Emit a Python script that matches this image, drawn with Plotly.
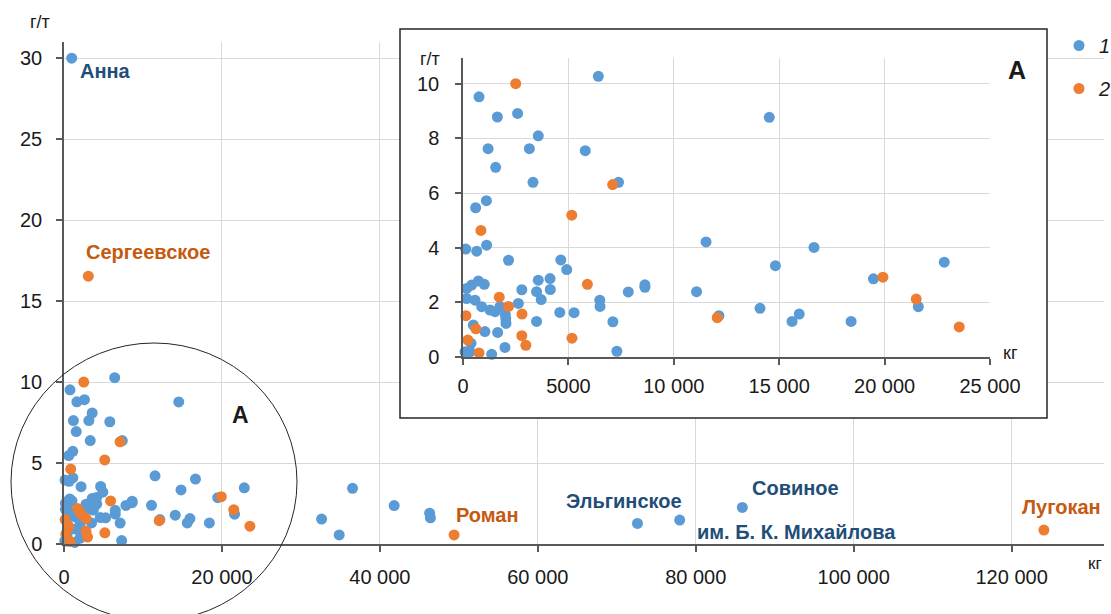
import numpy as np
import plotly.graph_objects as go

# ---------------- data ----------------
# series 1 (blue): metal content (kg) vs grade (g/t)
s1_x = [975, 6420, 760, 1630, 2590, 3570, 1190, 3150, 5800, 1550, 3320, 7380, 1110, 600,
        14530, 130, 650, 1120, 2160, 4640, 4920, 175, 410, 730, 1010, 2790, 3570, 4130,
        3490, 4140, 3710, 175, 570, 885, 1280, 1520, 1755, 2625, 2010, 2030, 2040, 490,
        1040, 1645, 3490, 380, 1990, 95, 330, 1360, 7840, 8630, 8630, 6490, 6500, 4590,
        5270, 7110, 7300, 11080, 11530, 16650, 14820, 22830, 19470, 21600, 12140, 14090,
        15610, 15950, 18410, 32620, 34850, 36540, 41810, 46300, 46400, 72620, 77970, 85900]
s1_y = [30.0, 10.27, 9.52, 8.78, 8.91, 8.09, 7.62, 7.62, 7.55, 6.94, 6.39, 6.39, 5.72, 5.46,
        8.77, 3.95, 3.87, 4.09, 3.54, 3.55, 3.2, 2.51, 2.63, 2.78, 2.66, 2.46, 2.81, 2.87,
        2.39, 2.47, 2.1, 2.14, 2.08, 1.84, 1.72, 1.66, 1.84, 1.96, 1.55, 1.4, 1.23, 1.17,
        0.93, 0.9, 1.3, 0.5, 0.35, 0.19, 0.19, 0.1, 2.38, 2.64, 2.55, 2.08, 1.85, 1.63,
        1.62, 1.29, 0.21, 2.39, 4.21, 4.01, 3.34, 3.47, 2.86, 1.84, 1.51, 1.78,
        1.3, 1.57, 1.3, 1.54, 0.56, 3.44, 2.37, 1.9, 1.62, 1.27, 1.48, 2.26]

# series 2 (orange)
s2_x = [3080, 2500, 7100, 5160, 850, 5900, 1720, 2160, 2800, 140, 610, 230, 760, 2790, 2980,
        5170, 19920, 21500, 12060, 23540, 49400, 124090]
s2_y = [16.54, 10.0, 6.31, 5.19, 4.63, 2.66, 2.19, 1.85, 1.57, 1.51, 1.03, 0.62, 0.15, 0.78,
        0.43, 0.69, 2.92, 2.12, 1.44, 1.1, 0.56, 0.86]

series_names = ["1", "2"]

# named deposits: (name, series, index in series)
label_names = ["Анна", "Сергеевское", "Роман", "Эльгинское", "им. Б. К. Михайлова", "Совиное", "Лугокан"]
label_series = [1, 2, 2, 1, 1, 1, 2]
label_index = [0, 0, 20, 77, 78, 79, 21]

main_xticks = [0, 20000, 40000, 60000, 80000, 100000, 120000]
main_xticktext = ["0", "20 000", "40 000", "60 000", "80 000", "100 000", "120 000"]
main_yticks = [0, 5, 10, 15, 20, 25, 30]
inset_xticks = [0, 5000, 10000, 15000, 20000, 25000]
inset_xticktext = ["0", "5000", "10 000", "15 000", "20 000", "25 000"]
inset_yticks = [0, 2, 4, 6, 8, 10]

# ---------------- layout geometry / style ----------------
W, H = 1111, 614
ML, MR, MT, MB = 64, 7, 42, 70
PW, PH = W - ML - MR, H - MT - MB


def fx(px):
    return (px - ML) / PW


def fy(py):
    return (H - MB - py) / PH


X_MAX, Y_MAX = 131700, 31
IX_MAX, IY_MAX = 25000, 10.95

BLUE, ORANGE = "#5B9BD5", "#ED7D31"
LBL_BLUE, LBL_ORANGE = "#1F4E79", "#C55A11"
FONT = "Liberation Sans, Arial, sans-serif"
AXC = "#595959"
GRID = "#D9D9D9"
TXT = "#1a1a1a"

fig = go.Figure()

# white panel of the inset (covers main gridlines) drawn in main axes
bx0, bx1 = fx(400) * X_MAX, fx(1047) * X_MAX
by0, by1 = fy(418) * Y_MAX, fy(29) * Y_MAX
fig.add_trace(go.Scatter(x=[bx0, bx1, bx1, bx0, bx0], y=[by0, by0, by1, by1, by0],
                         fill="toself", fillcolor="white", mode="lines",
                         line=dict(width=0), hoverinfo="skip", showlegend=False))

colors = [BLUE, ORANGE]
data = [(s1_x, s1_y), (s2_x, s2_y)]
for k, (xs, ys) in enumerate(data):
    fig.add_trace(go.Scatter(x=xs, y=ys, mode="markers", name=series_names[k],
                             legendgroup=series_names[k],
                             marker=dict(size=11, color=colors[k]), cliponaxis=False))
for k, (xs, ys) in enumerate(data):
    xa, ya = np.array(xs), np.array(ys)
    m = (xa <= IX_MAX) & (ya <= IY_MAX)
    fig.add_trace(go.Scatter(x=xa[m], y=ya[m], mode="markers", xaxis="x2", yaxis="y2",
                             marker=dict(size=11, color=colors[k]), cliponaxis=False,
                             showlegend=False))

axis_common = dict(showgrid=True, gridcolor=GRID, gridwidth=1.3, zeroline=False,
                   showline=True, linecolor=AXC, linewidth=1.5, ticks="outside",
                   ticklen=6, tickcolor=AXC, tickwidth=1.5,
                   tickfont=dict(family=FONT, size=20, color=TXT))

fig.update_layout(
    width=W, height=H,
    margin=dict(l=ML, r=MR, t=MT, b=MB, autoexpand=False),
    paper_bgcolor="white", plot_bgcolor="white",
    xaxis=dict(range=[0, X_MAX], tickvals=main_xticks, ticktext=main_xticktext,
               domain=[0, 1], anchor="y", ticklabelstandoff=8, **axis_common),
    yaxis=dict(range=[0, Y_MAX], tickvals=main_yticks, domain=[0, 1], anchor="x",
               ticklabelstandoff=10, **axis_common),
    xaxis2=dict(range=[0, IX_MAX], tickvals=inset_xticks, ticktext=inset_xticktext,
                domain=[fx(463), fx(990)], anchor="y2", ticklabelstandoff=4, **axis_common),
    yaxis2=dict(range=[0, IY_MAX], tickvals=inset_yticks, domain=[fy(357), fy(57.7)],
                anchor="x2", ticklabelstandoff=12, **axis_common),
    showlegend=True,
    legend=dict(x=fx(1059), y=fy(26), xanchor="left", yanchor="top",
                font=dict(family=FONT, size=20, color=TXT, style="italic"),
                tracegroupgap=14, itemwidth=30, bgcolor="rgba(0,0,0,0)"),
    hovermode=False,
)

ann = []


def paper_text(px, py, text, size, bold=False):
    ann.append(dict(x=fx(px), y=fy(py), xref="paper", yref="paper", text=text,
                    showarrow=False, xanchor="center", yanchor="middle",
                    font=dict(family=FONT, size=size, color=TXT,
                              weight="bold" if bold else "normal")))


paper_text(40, 22, "г/т", 18)
paper_text(1095, 563, "кг", 17)
paper_text(430, 59, "г/т", 18)
paper_text(1010, 353, "кг", 18)
paper_text(1017, 70, "A", 25, bold=True)
paper_text(240, 415, "A", 23, bold=True)

# deposit labels offsets (pixels) relative to their points
label_shift = [(34, -13), (60, 24), (33, 20), (-13, 22), (117, -12), (53, 19), (18, 23)]
for name, s, i, (dx, dy) in zip(label_names, label_series, label_index, label_shift):
    xs, ys = data[s - 1]
    ann.append(dict(x=xs[i], y=ys[i], xref="x", yref="y", text=name, showarrow=False,
                    xshift=dx, yshift=dy, xanchor="center", yanchor="middle",
                    font=dict(family=FONT, size=20, weight="bold",
                              color=LBL_BLUE if s == 1 else LBL_ORANGE)))
fig.update_layout(annotations=ann)

fig.update_layout(shapes=[
    dict(type="rect", xref="paper", yref="paper", x0=fx(400), x1=fx(1047), y0=fy(418),
         y1=fy(29), line=dict(color="#262626", width=1.5), fillcolor="rgba(0,0,0,0)",
         layer="above"),
    dict(type="circle", xref="paper", yref="paper", x0=fx(11), x1=fx(297), y0=fy(621),
         y1=fy(343), line=dict(color="#262626", width=1), layer="above"),
])

fig.write_html("out.html", config={"displayModeBar": False},
               post_script="document.body.style.margin='0';document.body.style.overflow='hidden';")
